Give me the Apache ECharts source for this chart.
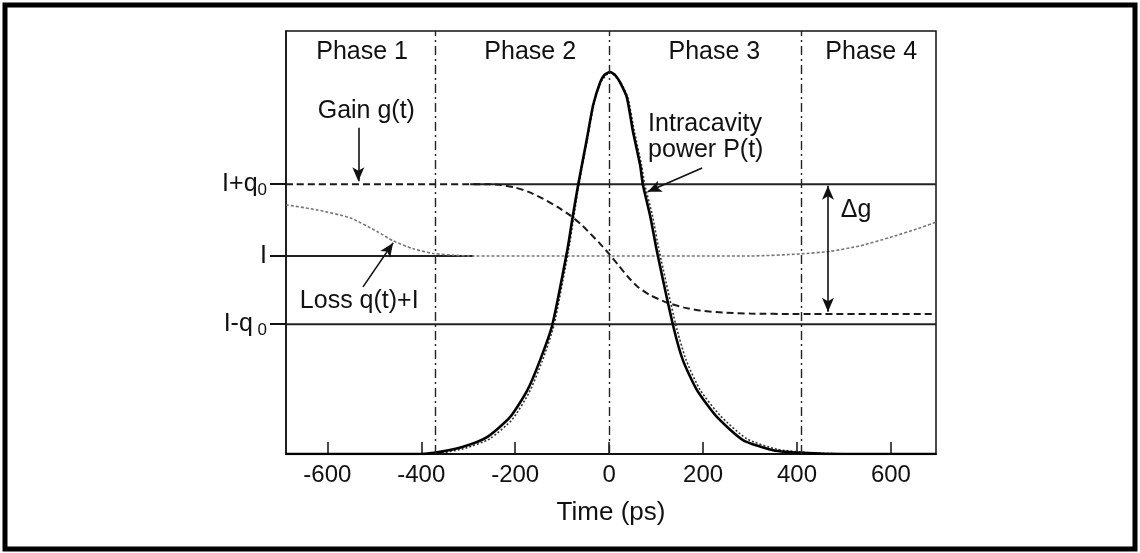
<!DOCTYPE html>
<html>
<head>
<meta charset="utf-8">
<script src="https://cdn.jsdelivr.net/npm/echarts@6/dist/echarts.min.js"></script>
<style>
html, body { margin: 0; padding: 0; background: #fff; }
#chart { width: 1140px; height: 553px; }
</style>
</head>
<body>
<div id="chart"></div>
<script>
// Passive mode-locking: pulse, saturated gain and loss over one round trip

const timeTicks = [-600, -400, -200, 0, 200, 400, 600];
const levelTicks = [30.7, 46.8, 63.8];
const levelLabels = ['{n|I-q}{s| 0}', '{n|I}', '{n|I+q}{s|0}'];
const phaseNames = ['Phase 1', 'Phase 2', 'Phase 3', 'Phase 4'];
const phaseBounds = [-370, 0, 410];

// [time ps, level]
const pulseFit = [
    [-688, 0], [-400, 0], [-360, 0.5], [-311, 1.7], [-260, 4.0], [-211, 8.7],
    [-174, 15.1], [-147, 22.2], [-121, 30.5], [-89, 48.2], [-77, 56.5],
    [-66, 63.6], [-47, 74.7], [-34, 82.5], [-19, 87.9], [-10, 89.6], [2, 90.3],
    [12, 89.7], [23, 87.9], [38, 84.2], [51, 76.1], [66, 68.3], [72, 63.6],
    [87, 56.5], [102, 47.8], [136, 30.5], [157, 22.2], [187, 15.1], [230, 8.7],
    [285, 3.3], [349, 0.9], [421, 0.2], [500, 0], [696, 0]
];
const pulseMeasured = [
    [-688, 0], [-395, 0], [-355, 0.3], [-305, 1.4], [-254, 3.6], [-206, 8.2],
    [-170, 14.6], [-143, 21.8], [-118, 30.2], [-87, 47.8], [-75, 56.2],
    [-65, 63.4], [-46, 74.6], [-33, 82.4], [-18, 87.9], [2, 90.2],
    [24, 87.9], [40, 84.2], [54, 76.1], [69, 68.3], [76, 63.6],
    [92, 56.5], [107, 47.8], [142, 30.5], [164, 22.2], [194, 15.1], [238, 8.9],
    [293, 3.6], [358, 1.1], [430, 0.3], [510, 0], [696, 0]
];
const gain = [
    [-688, 63.8], [-260, 63.8], [-230, 63.6], [-200, 63.0], [-170, 61.9],
    [-140, 60.3], [-110, 58.4], [-83, 56.4], [-60, 54.3], [-40, 52.1],
    [-20, 49.8], [0, 47.3], [20, 44.6], [40, 41.9], [60, 39.6], [85, 37.7],
    [123, 35.8], [160, 34.6], [194, 33.9], [250, 33.4], [300, 33.2],
    [400, 33.1], [696, 33.1]
];
const loss = [
    [-688, 58.9], [-621, 57.7], [-551, 55.8], [-494, 52.6], [-460, 50.4],
    [-417, 48.5], [-374, 47.4], [-330, 47.0], [-289, 46.8], [300, 46.8],
    [406, 47.3], [470, 47.9], [534, 49.2], [598, 51.2], [655, 53.2], [696, 54.8]
];
const levelHigh = [[-296, 63.8], [696, 63.8]];
const levelMid = [[-688, 46.8], [-289, 46.8]];
const levelLow = [[-688, 30.7], [696, 30.7]];

const FONT = '"Liberation Sans", Arial, Helvetica, sans-serif';
const INK = '#111';

// annotation anchors, in data coordinates
const phaseLabelT = [-526, -168, 224, 558];
const notes = [
    { text: 'Gain g(t)', at: [-517, 81.1], align: 'center' },
    { text: 'Intracavity', at: [83, 78.0], align: 'left' },
    { text: 'power P(t)', at: [83, 71.9], align: 'left' },
    { text: 'Loss q(t)+I', at: [-532, 36.2], align: 'center' },
    { text: 'Δg', at: [526, 57.7], align: 'center' }
];
const pointers = [
    { from: [-534, 77.1], to: [-534, 64.5] },
    { from: [-524, 39.5], to: [-460, 49.9] },
    { from: [198, 67.6], to: [82, 62.0] },
    { from: [466, 33.6], to: [466, 63.4], both: true }
];

const chart = echarts.init(document.getElementById('chart'));

function lineSeries(name, data, style, extra) {
    return Object.assign({
        type: 'line',
        name: name,
        data: data,
        showSymbol: false,
        symbol: 'none',
        silent: true,
        lineStyle: style
    }, extra || {});
}

const option = {
    animation: false,
    backgroundColor: '#fff',
    grid: {
        left: 286, top: 31, right: 204, bottom: 99,
        show: true, borderColor: INK, borderWidth: 1.5
    },
    xAxis: {
        type: 'value',
        min: -688,
        max: 696,
        name: 'Time (ps)',
        nameLocation: 'middle',
        nameGap: 46,
        nameTextStyle: { fontFamily: FONT, fontSize: 26, color: INK },
        axisLine: { show: true, onZero: false, lineStyle: { color: INK, width: 2 } },
        axisTick: { show: true, inside: true, length: 12, customValues: timeTicks, lineStyle: { color: INK, width: 1.5 } },
        axisLabel: { customValues: timeTicks, margin: 9, fontFamily: FONT, fontSize: 24, color: INK },
        splitLine: { show: false }
    },
    yAxis: {
        type: 'value',
        min: 0,
        max: 100,
        axisLine: { show: true, onZero: false, lineStyle: { color: INK, width: 1.5 } },
        axisTick: { show: true, inside: false, length: 16, customValues: levelTicks, lineStyle: { color: INK, width: 2 } },
        axisLabel: {
            customValues: levelTicks,
            margin: 19,
            formatter: v => levelLabels[levelTicks.indexOf(v)],
            rich: {
                n: { fontFamily: FONT, fontSize: 25, color: INK, lineHeight: 28 },
                s: { fontFamily: FONT, fontSize: 17, color: INK, lineHeight: 28, padding: [12, 0, 0, 0] }
            }
        },
        splitLine: { show: false }
    },
    series: [
        lineSeries('I+q0', levelHigh, { color: '#222', width: 2 }),
        lineSeries('I', levelMid, { color: '#222', width: 2 }),
        lineSeries('I-q0', levelLow, { color: '#222', width: 2 }, {
            markLine: {
                silent: true,
                symbol: 'none',
                label: { show: false },
                lineStyle: { color: '#222', width: 1.4, type: [9, 4, 2, 4] },
                data: phaseBounds.map(t => ({ xAxis: t }))
            }
        }),
        lineSeries('Loss q(t)+I', loss, { color: '#777', width: 1.6, type: [3, 2] }, { smooth: 0.2 }),
        lineSeries('Gain g(t)', gain, { color: '#1a1a1a', width: 2, type: [7, 4] }, { smooth: 0.2 }),
        lineSeries('P(t) measured', pulseMeasured, { color: '#333', width: 1.6, type: [2, 2] }, { smooth: 0.2 }),
        lineSeries('P(t)', pulseFit, { color: '#000', width: 2.6 }, { smooth: 0.2 }),
        {
            type: 'line',
            name: 'pointers',
            data: [],
            silent: true,
            markLine: {
                silent: true,
                symbol: ['none', 'arrow'],
                symbolSize: [9, 14],
                label: { show: false },
                lineStyle: { color: INK, width: 1.6, type: 'solid' },
                data: pointers.map(p => [
                    { coord: p.from, symbol: p.both ? 'arrow' : 'none' },
                    { coord: p.to }
                ])
            }
        }
    ]
};

chart.setOption(option);

// text annotations and the outer frame, placed through the chart's scales
const at = (t, v) => chart.convertToPixel({ gridIndex: 0 }, [t, v]);
function textEl(str, pos, align) {
    return {
        type: 'text',
        x: pos[0],
        y: pos[1],
        silent: true,
        style: {
            text: str,
            font: '25px ' + FONT,
            fill: INK,
            align: align,
            textAlign: align,
            verticalAlign: 'middle',
            textVerticalAlign: 'middle'
        }
    };
}

const graphics = [{
    type: 'rect',
    silent: true,
    shape: { x: 5, y: 5, width: 1130, height: 544 },
    style: { fill: 'none', stroke: '#000', lineWidth: 5 }
}];
phaseNames.forEach((name, i) => graphics.push(textEl(name, at(phaseLabelT[i], 95), 'center')));
notes.forEach(n => graphics.push(textEl(n.text, at(n.at[0], n.at[1]), n.align)));

chart.setOption({ graphic: graphics });
</script>
</body>
</html>
